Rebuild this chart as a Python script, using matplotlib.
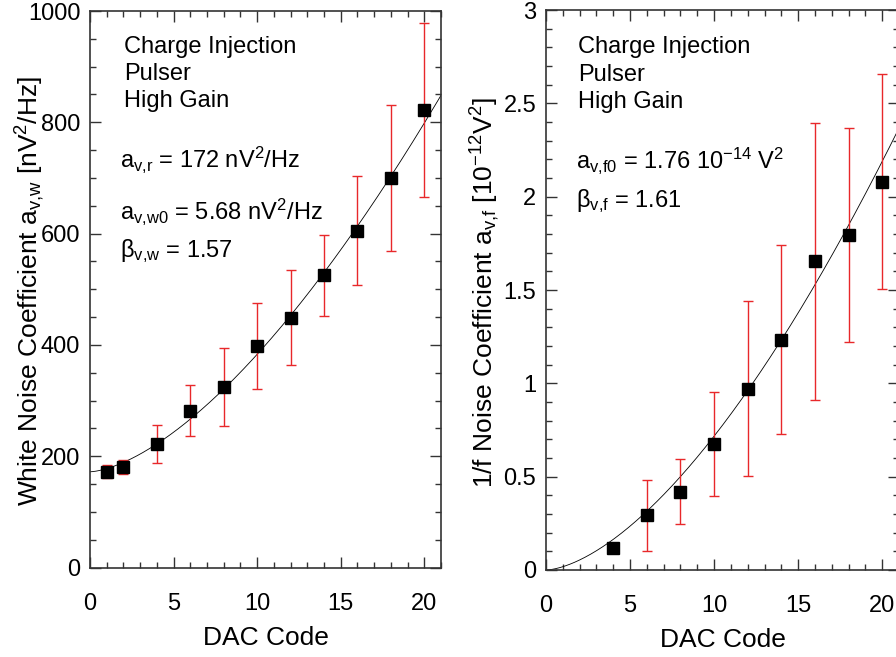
import numpy as np
import matplotlib
matplotlib.use("Agg")
import matplotlib.pyplot as plt
from matplotlib.ticker import MultipleLocator

plt.rcParams['font.family'] = ['Liberation Sans', 'DejaVu Sans']
plt.rcParams['mathtext.default'] = 'regular'

# ---- data: white noise (left) ----
dac_w = [1, 2, 4, 6, 8, 10, 12, 14, 16, 18, 20]
white = [172, 181, 222, 282, 324, 398, 449, 525, 605, 700, 822]
white_err = [12, 12.5, 34, 46, 70, 77, 86, 73, 98, 131, 157]
a_r, a_w0, beta_w = 172.0, 5.68, 1.57

# ---- data: 1/f noise (right) ----
dac_f = [4, 6, 8, 10, 12, 14, 16, 18, 20]
flick = [0.119, 0.292, 0.419, 0.675, 0.972, 1.234, 1.653, 1.794, 2.079]
flick_err = [0.0, 0.19, 0.174, 0.278, 0.47, 0.505, 0.74, 0.573, 0.576]
a_f0, beta_f = 0.0176, 1.61

W, H = 896, 657
fig = plt.figure(figsize=(W / 100, H / 100), dpi=100)

def px_axes(x0, x1, ytop, ybot):
    return fig.add_axes([x0 / W, (H - ybot) / H, (x1 - x0) / W, (ybot - ytop) / H])

axL = px_axes(90, 441, 11, 567.5)
axR = px_axes(546, 899, 10, 570)

spine_c = '#333333'
for ax in (axL, axR):
    for s in ax.spines.values():
        s.set_color(spine_c)
        s.set_linewidth(1.2)
    ax.tick_params(which='both', direction='in', top=True, right=True,
                   colors=spine_c, labelcolor='black', width=1.0)
    ax.tick_params(which='major', length=8)
    ax.tick_params(which='minor', length=4)
    ax.tick_params(axis='x', which='major', labelsize=17, pad=18)
    ax.tick_params(axis='y', which='major', labelsize=17, pad=7)
    ax.set_xlim(0, 21)
    ax.xaxis.set_major_locator(MultipleLocator(5))
    ax.xaxis.set_minor_locator(MultipleLocator(1))
    ax.set_xlabel('DAC Code', fontsize=19, labelpad=8)

xx = np.linspace(0, 21, 300)

# left
axL.plot(xx, a_r + a_w0 * xx ** beta_w, color='black', lw=0.6)
axL.errorbar(dac_w, white, yerr=white_err, fmt='none', ecolor='#e8282a',
             elinewidth=1.0, capsize=3.6, capthick=1.0)
axL.plot(dac_w, white, 's', color='black', ms=8.8)
axL.set_ylim(0, 1000)
axL.yaxis.set_major_locator(MultipleLocator(200))
axL.yaxis.set_minor_locator(MultipleLocator(50))

ylab = dict(rotation=90, va='baseline', ha='center', rotation_mode='anchor', fontsize=19)
fig.text(38 / W, (H - 291) / H,
         'White Noise Coefficient a$_{v{,}w}$ [nV$^2$/Hz]', **ylab)

fs = 17
tl = dict(transform=axL.transAxes, fontsize=fs, va='baseline', ha='left')
axL.text(0.097, 0.925, 'Charge Injection', **tl)
axL.text(0.097, 0.876, 'Pulser', **tl)
axL.text(0.097, 0.828, 'High Gain', **tl)
axL.text(0.086, 0.720, 'a$_{v{,}r}$ = 172 nV$^2$/Hz', **tl)
axL.text(0.086, 0.626, 'a$_{v{,}w0}$ = 5.68 nV$^2$/Hz', **tl)
axL.text(0.086, 0.557, 'β$_{v{,}w}$ = 1.57', **tl)

# right
axR.plot(xx, a_f0 * xx ** beta_f, color='black', lw=0.6)
axR.errorbar(dac_f, flick, yerr=flick_err, fmt='none', ecolor='#e8282a',
             elinewidth=1.0, capsize=3.6, capthick=1.0)
axR.plot(dac_f, flick, 's', color='black', ms=8.8)
axR.set_ylim(0, 3)
axR.yaxis.set_major_locator(MultipleLocator(0.5))
axR.yaxis.set_minor_locator(MultipleLocator(0.1))
axR.set_yticks([0, 0.5, 1, 1.5, 2, 2.5, 3])
axR.set_yticklabels(['0', '0.5', '1', '1.5', '2', '2.5', '3'])
fig.text(493 / W, (H - 292.5) / H,
         '1/f Noise Coefficient a$_{v{,}f}$ [10$^{-12}$V$^2$]', **ylab)

tr = dict(transform=axR.transAxes, fontsize=fs, va='baseline', ha='left')
axR.text(0.0915, 0.9227, 'Charge Injection', **tr)
axR.text(0.0915, 0.873, 'Pulser', **tr)
axR.text(0.0915, 0.8244, 'High Gain', **tr)
axR.text(0.085, 0.717, 'a$_{v{,}f0}$ = 1.76 10$^{-14}$ V$^2$', **tr)
axR.text(0.085, 0.6476, 'β$_{v{,}f}$ = 1.61', **tr)

fig.savefig('out.png', dpi=100)
